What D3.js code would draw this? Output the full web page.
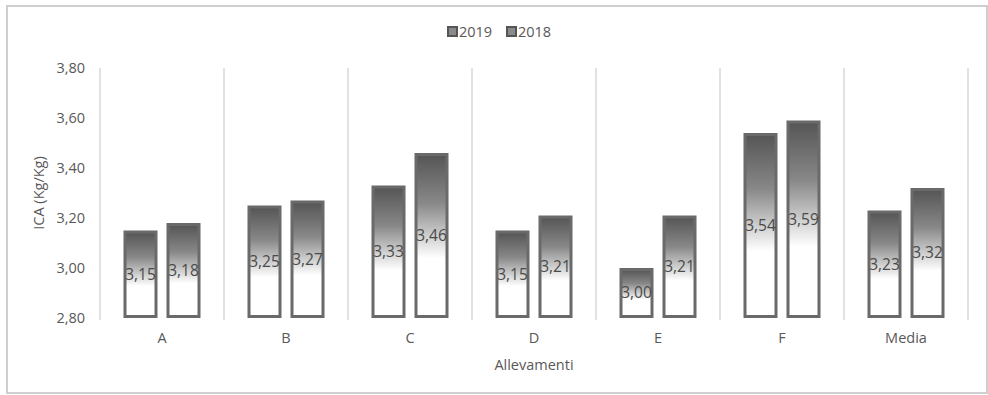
<!DOCTYPE html>
<html>
<head>
<meta charset="utf-8">
<script src="https://cdn.jsdelivr.net/npm/d3@7"></script>
<style>
  body { margin: 0; background: #fff; }
  svg { display: block; font-family: "Open Sans", sans-serif; }
</style>
</head>
<body>
<div id="chart"></div>
<script>
// data
const categories = ["A", "B", "C", "D", "E", "F", "Media"];
const series = ["2019", "2018"];
const values2019 = [3.15, 3.25, 3.33, 3.15, 3.00, 3.54, 3.23];
const values2018 = [3.18, 3.27, 3.46, 3.21, 3.21, 3.59, 3.32];
const yTicks = [2.8, 3.0, 3.2, 3.4, 3.6, 3.8];

const W = 988, H = 395;
const plot = { left: 100, right: 968, top: 68, bottom: 318 };
const fs = 14.5;

const svg = d3.select("#chart").append("svg")
  .attr("width", W).attr("height", H);

// gradient used for bars and legend swatches
const defs = svg.append("defs");
const grad = defs.append("linearGradient")
  .attr("id", "barGrad")
  .attr("x1", 0).attr("y1", 0).attr("x2", 0).attr("y2", 1);
grad.append("stop").attr("offset", "0%").attr("stop-color", "#555555");
grad.append("stop").attr("offset", "30%").attr("stop-color", "#888888");
grad.append("stop").attr("offset", "64%").attr("stop-color", "#ffffff");
grad.append("stop").attr("offset", "100%").attr("stop-color", "#ffffff");

// outer frame
svg.append("rect")
  .attr("x", 7).attr("y", 6).attr("width", 980).attr("height", 387)
  .attr("fill", "none").attr("stroke", "#cfcfcf").attr("stroke-width", 2);

const x = d3.scaleBand().domain(categories).range([plot.left, plot.right]);
const step = x.step();
// two bars 34px wide with a 9px gap, centred in each band
const xSub = d3.scaleBand().domain(series)
  .range([(step - 77) / 2, (step + 77) / 2])
  .paddingInner(9 / 43);
const y = d3.scaleLinear().domain([2.8, 3.8]).range([plot.bottom, plot.top]);

// vertical separators (Excel style)
const seps = d3.range(categories.length + 1).map(i => plot.left + i * step);
svg.append("g").selectAll("line")
  .data(seps)
  .join("line")
  .attr("x1", d => d).attr("x2", d => d)
  .attr("y1", plot.top).attr("y2", plot.bottom + 2)
  .attr("stroke", "#d9d9d9").attr("stroke-width", 1.5);

// y axis labels
const yAxis = svg.append("g")
  .attr("transform", `translate(${plot.left - 12},0)`)
  .call(d3.axisLeft(y).tickValues(yTicks).tickSize(0)
    .tickFormat(d => d3.format(".2f")(d).replace(".", ",")));
yAxis.select(".domain").remove();
yAxis.selectAll("text")
  .attr("font-family", "Open Sans, sans-serif")
  .attr("font-size", fs).attr("fill", "#595959");

// x axis labels
const xAxis = svg.append("g")
  .attr("transform", `translate(0,${plot.bottom + 12})`)
  .call(d3.axisBottom(x).tickSize(0));
xAxis.select(".domain").remove();
xAxis.selectAll("text")
  .attr("font-family", "Open Sans, sans-serif")
  .attr("font-size", fs).attr("fill", "#595959");

// axis titles
svg.append("text")
  .attr("x", (plot.left + plot.right) / 2).attr("y", 370)
  .attr("text-anchor", "middle")
  .attr("font-size", fs).attr("fill", "#595959")
  .text("Allevamenti");
svg.append("text")
  .attr("transform", `translate(44,${(plot.top + plot.bottom) / 2}) rotate(-90)`)
  .attr("text-anchor", "middle")
  .attr("font-size", fs).attr("fill", "#595959")
  .text("ICA (Kg/Kg)");

// bars
const rows = categories.map((c, i) => ({
  cat: c,
  vals: [{ key: "2019", value: values2019[i] }, { key: "2018", value: values2018[i] }]
}));
const sw = 3;
const groups = svg.append("g").selectAll("g")
  .data(rows)
  .join("g")
  .attr("transform", d => `translate(${x(d.cat)},0)`);

groups.selectAll("rect")
  .data(d => d.vals)
  .join("rect")
  .attr("x", d => xSub(d.key) + sw / 2)
  .attr("y", d => y(d.value) + sw / 2)
  .attr("width", xSub.bandwidth() - sw)
  .attr("height", d => y.range()[0] - y(d.value) - sw)
  .attr("fill", "url(#barGrad)")
  .attr("stroke", "#6a6a6a")
  .attr("stroke-width", sw);

groups.selectAll("text")
  .data(d => d.vals)
  .join("text")
  .attr("x", d => xSub(d.key) + xSub.bandwidth() / 2)
  .attr("y", d => (y(d.value) + y.range()[0]) / 2)
  .attr("dy", "0.35em")
  .attr("text-anchor", "middle")
  .attr("font-size", 15.5)
  .attr("fill", "#4a4a4a")
  .text(d => d3.format(".2f")(d.value).replace(".", ","));

// legend
const legend = svg.append("g").attr("transform", "translate(447,26)");
const legX = [0, 59];
series.forEach((s, i) => {
  const g = legend.append("g").attr("transform", `translate(${legX[i]},0)`);
  g.append("rect")
    .attr("x", 1).attr("y", 1).attr("width", 9).attr("height", 9)
    .attr("fill", "#8a8a8a")
    .attr("stroke", "#555555").attr("stroke-width", 2);
  g.append("text")
    .attr("x", 12).attr("y", 6).attr("dy", "0.35em")
    .attr("font-size", fs).attr("fill", "#595959")
    .text(s);
});
</script>
</body>
</html>
